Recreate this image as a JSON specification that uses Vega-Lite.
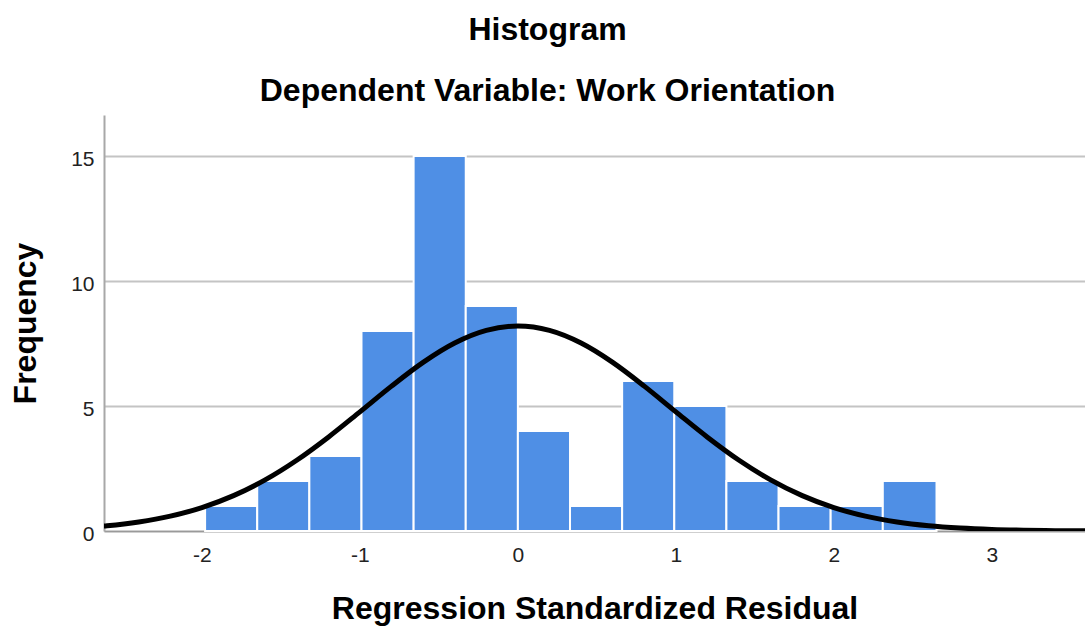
{
  "$schema": "https://vega.github.io/schema/vega-lite/v6.json",
  "autosize": {"type": "none"},
  "padding": {"left": 104, "top": 115, "right": 0, "bottom": 103},
  "width": 981,
  "height": 416,
  "background": "white",
  "title": {
    "text": "Histogram",
    "subtitle": "Dependent Variable: Work Orientation",
    "anchor": "middle",
    "dx": -47,
    "font": "Liberation Sans",
    "fontSize": 32,
    "fontWeight": "bold",
    "color": "#000000",
    "subtitleFont": "Liberation Sans",
    "subtitleFontSize": 32,
    "subtitleFontWeight": "bold",
    "subtitleColor": "#000000",
    "subtitlePadding": 29,
    "offset": 7
  },
  "datasets": {
    "bins": [
      {"x0": -1.98, "x1": -1.65, "count": 1},
      {"x0": -1.65, "x1": -1.32, "count": 2},
      {"x0": -1.32, "x1": -0.99, "count": 3},
      {"x0": -0.99, "x1": -0.66, "count": 8},
      {"x0": -0.66, "x1": -0.33, "count": 15},
      {"x0": -0.33, "x1": 0.0, "count": 9},
      {"x0": 0.0, "x1": 0.33, "count": 4},
      {"x0": 0.33, "x1": 0.66, "count": 1},
      {"x0": 0.66, "x1": 0.99, "count": 6},
      {"x0": 0.99, "x1": 1.32, "count": 5},
      {"x0": 1.32, "x1": 1.65, "count": 2},
      {"x0": 1.65, "x1": 1.98, "count": 1},
      {"x0": 1.98, "x1": 2.31, "count": 1},
      {"x0": 2.31, "x1": 2.65, "count": 2}
    ],
    "curve": [
      {"x": -2.7, "y": 0.157},
      {"x": -2.6, "y": 0.209},
      {"x": -2.4, "y": 0.360},
      {"x": -2.2, "y": 0.594},
      {"x": -2.0, "y": 0.936},
      {"x": -1.8, "y": 1.414},
      {"x": -1.6, "y": 2.045},
      {"x": -1.4, "y": 2.831},
      {"x": -1.2, "y": 3.754},
      {"x": -1.0, "y": 4.767},
      {"x": -0.8, "y": 5.795},
      {"x": -0.6, "y": 6.745},
      {"x": -0.4, "y": 7.519},
      {"x": -0.2, "y": 8.024},
      {"x": 0.0, "y": 8.2},
      {"x": 0.2, "y": 8.024},
      {"x": 0.4, "y": 7.519},
      {"x": 0.6, "y": 6.745},
      {"x": 0.8, "y": 5.795},
      {"x": 1.0, "y": 4.767},
      {"x": 1.2, "y": 3.754},
      {"x": 1.4, "y": 2.831},
      {"x": 1.6, "y": 2.045},
      {"x": 1.8, "y": 1.414},
      {"x": 2.0, "y": 0.936},
      {"x": 2.2, "y": 0.594},
      {"x": 2.4, "y": 0.360},
      {"x": 2.6, "y": 0.209},
      {"x": 2.8, "y": 0.117},
      {"x": 3.0, "y": 0.062},
      {"x": 3.2, "y": 0.032},
      {"x": 3.4, "y": 0.015},
      {"x": 3.6, "y": 0.007}
    ]
  },
  "layer": [
    {
      "data": {"name": "bins"},
      "mark": {"type": "rect", "color": "#4f8fe5", "stroke": "#ffffff", "strokeWidth": 2},
      "encoding": {
        "x": {
          "field": "x0",
          "type": "quantitative",
          "scale": {"domain": [-2.62, 3.59], "nice": false, "zero": false},
          "axis": {
            "values": [-2, -1, 0, 1, 2, 3],
            "labelExpr": "'' + datum.value",
            "title": "Regression Standardized Residual",
            "grid": false,
            "ticks": false,
            "domain": true,
            "domainColor": "#9a9a9a",
            "domainWidth": 1.5,
            "labelFont": "Liberation Sans",
            "labelFontSize": 21,
            "labelColor": "#222222",
            "labelPadding": 13,
            "titleFont": "Liberation Sans",
            "titleFontSize": 32,
            "titleFontWeight": "bold",
            "titleColor": "#000000",
            "titlePadding": 28
          }
        },
        "x2": {"field": "x1"},
        "y": {
          "field": "count",
          "type": "quantitative",
          "scale": {"domain": [0, 16.64], "nice": false},
          "axis": {
            "values": [0, 5, 10, 15],
            "title": "Frequency",
            "grid": true,
            "gridColor": "#c4c4c4",
            "gridWidth": 2,
            "ticks": false,
            "domain": true,
            "domainColor": "#a8a8a8",
            "domainWidth": 2,
            "labelFont": "Liberation Sans",
            "labelFontSize": 21,
            "labelColor": "#222222",
            "labelPadding": 10,
            "labelOffset": 3,
            "titleFont": "Liberation Sans",
            "titleFontSize": 32,
            "titleFontWeight": "bold",
            "titleColor": "#000000",
            "titlePadding": 28
          }
        },
        "y2": {"datum": 0}
      }
    },
    {
      "data": {"name": "curve"},
      "mark": {"type": "line", "color": "#000000", "strokeWidth": 5, "interpolate": "monotone", "clip": true},
      "encoding": {
        "x": {"field": "x", "type": "quantitative"},
        "y": {"field": "y", "type": "quantitative"}
      }
    }
  ],
  "config": {
    "view": {"stroke": null}
  }
}
